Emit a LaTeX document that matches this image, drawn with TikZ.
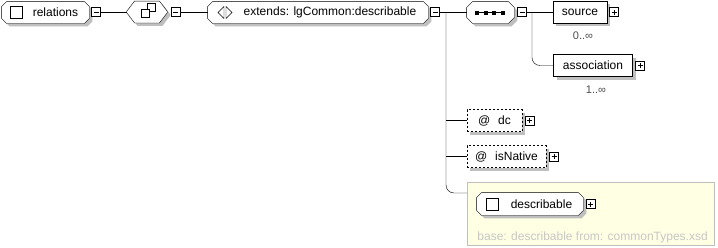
\documentclass[tikz,border=0pt]{standalone}
\usepackage{fontspec}
\setmainfont{Liberation Sans}
\usepackage{tikz}
\usetikzlibrary{shadows}
\definecolor{notebg}{RGB}{255,255,228}
\pgfdeclarelayer{background}
\pgfsetlayers{background,main}

% outline with cut corners round a named node: name, x cut, y cut
\newcommand{\cutbox}[3]{([xshift=#2]#1.north west) -- ([xshift=-#2]#1.north east)
  -- ([yshift=-#3]#1.north east) -- ([yshift=#3]#1.south east)
  -- ([xshift=-#2]#1.south east) -- ([xshift=#2]#1.south west)
  -- ([yshift=#3]#1.south west) -- ([yshift=-#3]#1.north west) -- cycle}

\tikzset{
  every node/.style={font=\fontsize{12}{14}\selectfont},
  grayshadow/.style={drop shadow={shadow xshift=3pt,shadow yshift=-3pt,fill=black!25,opacity=1}},
  elem/.style={rectangle,minimum height=21pt,inner sep=0pt},
  outline/.style={draw,fill=white,grayshadow},
  plain/.style={rectangle,draw,fill=white,grayshadow,minimum height=22pt,inner sep=0pt},
  attr/.style={plain,dash pattern=on 2pt off 2pt},
  mult/.style={text=black!70,font=\fontsize{11}{13}\selectfont,inner sep=0pt},
  minusbox/.style={draw,fill=white,minimum size=9pt,inner sep=0pt,line width=1pt,
    path picture={\draw[line width=1pt] ([xshift=2pt]path picture bounding box.west) -- ([xshift=-2pt]path picture bounding box.east);}},
  plusbox/.style={minusbox,
    path picture={\draw[line width=1pt] ([xshift=2pt]path picture bounding box.west) -- ([xshift=-2pt]path picture bounding box.east);
                  \draw[line width=1pt] ([yshift=2pt]path picture bounding box.south) -- ([yshift=-2pt]path picture bounding box.north);}},
  basebox/.style={draw=black!25,fill=notebg,anchor=north west,minimum width=247pt,minimum height=63pt,inner sep=0pt}
}

\begin{document}
\begin{tikzpicture}[x=1pt,y=-1pt,line width=0.9pt]
\useasboundingbox (0,0) rectangle (718,247);

% first row
\node[elem,minimum width=87pt] (rel) at (45.5,12.5) {\hspace*{20pt}relations};
\node[minusbox] (rel-m) at (96,12) {};
\node[elem,minimum width=40pt] (comp) at (147,12) {};
\node[minusbox] (comp-m) at (175.5,12) {};
\node[elem,minimum width=220pt] (ext) at (318,12.5) {\hspace*{24pt}extends: lgCommon:describable};
\node[minusbox] (ext-m) at (435,12) {};
\node[elem,minimum width=47pt] (seq) at (490.5,12.5) {};
\node[minusbox] (seq-m) at (522,12) {};
\node[plain,minimum width=54pt] (source) at (580,12) {source};
\node[plusbox] (source-p) at (614,12) {};
\node[mult] (source-mult) at (583,36) {0..∞};
\node[plain,minimum width=79pt] (assoc) at (593,65.5) {association};
\node[plusbox] (assoc-p) at (640,65.5) {};
\node[mult] (assoc-mult) at (596,90) {1..∞};

% attributes
\node[attr,minimum width=55pt] (dc) at (494.5,120.5) {@\hspace{8pt}dc};
\node[plusbox] (dc-p) at (529.5,120.5) {};
\node[attr,minimum width=79pt] (isnative) at (506.5,156.5) {@\hspace{8pt}isNative};
\node[plusbox] (isnative-p) at (554,156.5) {};

% base type
\node[elem,minimum width=106pt,minimum height=22pt] (desc) at (530,204) {\hspace*{23pt}describable};
\node[plusbox] (desc-p) at (590.5,204) {};
\node[anchor=west,text=black!22,inner sep=0pt] (baseinfo) at (477,237) {base: describable from: commonTypes.xsd};

\begin{pgfonlayer}{background}
\node[basebox] (extbox) at (467,182) {};
\draw[outline] \cutbox{rel}{5pt}{5pt};
\draw[outline] \cutbox{comp}{8pt}{10.5pt};
\draw[outline] \cutbox{ext}{5pt}{5pt};
\draw[outline] \cutbox{seq}{6pt}{6pt};
\draw[outline] \cutbox{desc}{5pt}{5pt};
\end{pgfonlayer}

% icons
\draw[fill=white] (10,6.5) rectangle (22,18.5);
\draw[fill=white] (486,198) rectangle (498,210);
\draw[fill=white] (147,3.5) rectangle (155,11.5);
\draw[fill=white] (141,9) rectangle (149,17);
\draw (224,6.5) -- (224,18.5) -- (218,12.5) -- cycle;
\draw (226,6.5) -- (226,18.5) -- (232,12.5) -- cycle;
\draw (475,12.5) -- (505,12.5);
\foreach \x in {477,485.5,494,502.5}
  \fill (\x-2,10.5) rectangle (\x+2,14.5);

% connectors
\coordinate (ext-j) at (446,12);
\coordinate (seq-j) at (532,12);
\coordinate (base-in) at (467,193);
\draw (rel-m) -- (comp.west);
\draw (comp-m) -- (ext.west |- comp-m);
\draw (ext-m) -- (seq.west |- ext-m);
\draw (seq-m) -- (source);
\draw[rounded corners=8pt] (seq-j) |- (assoc);
\draw[rounded corners=8pt] (ext-j) |- (base-in);
\draw (ext-j |- dc) -- (dc);
\draw (ext-j |- isnative) -- (isnative);
\end{tikzpicture}
\end{document}
